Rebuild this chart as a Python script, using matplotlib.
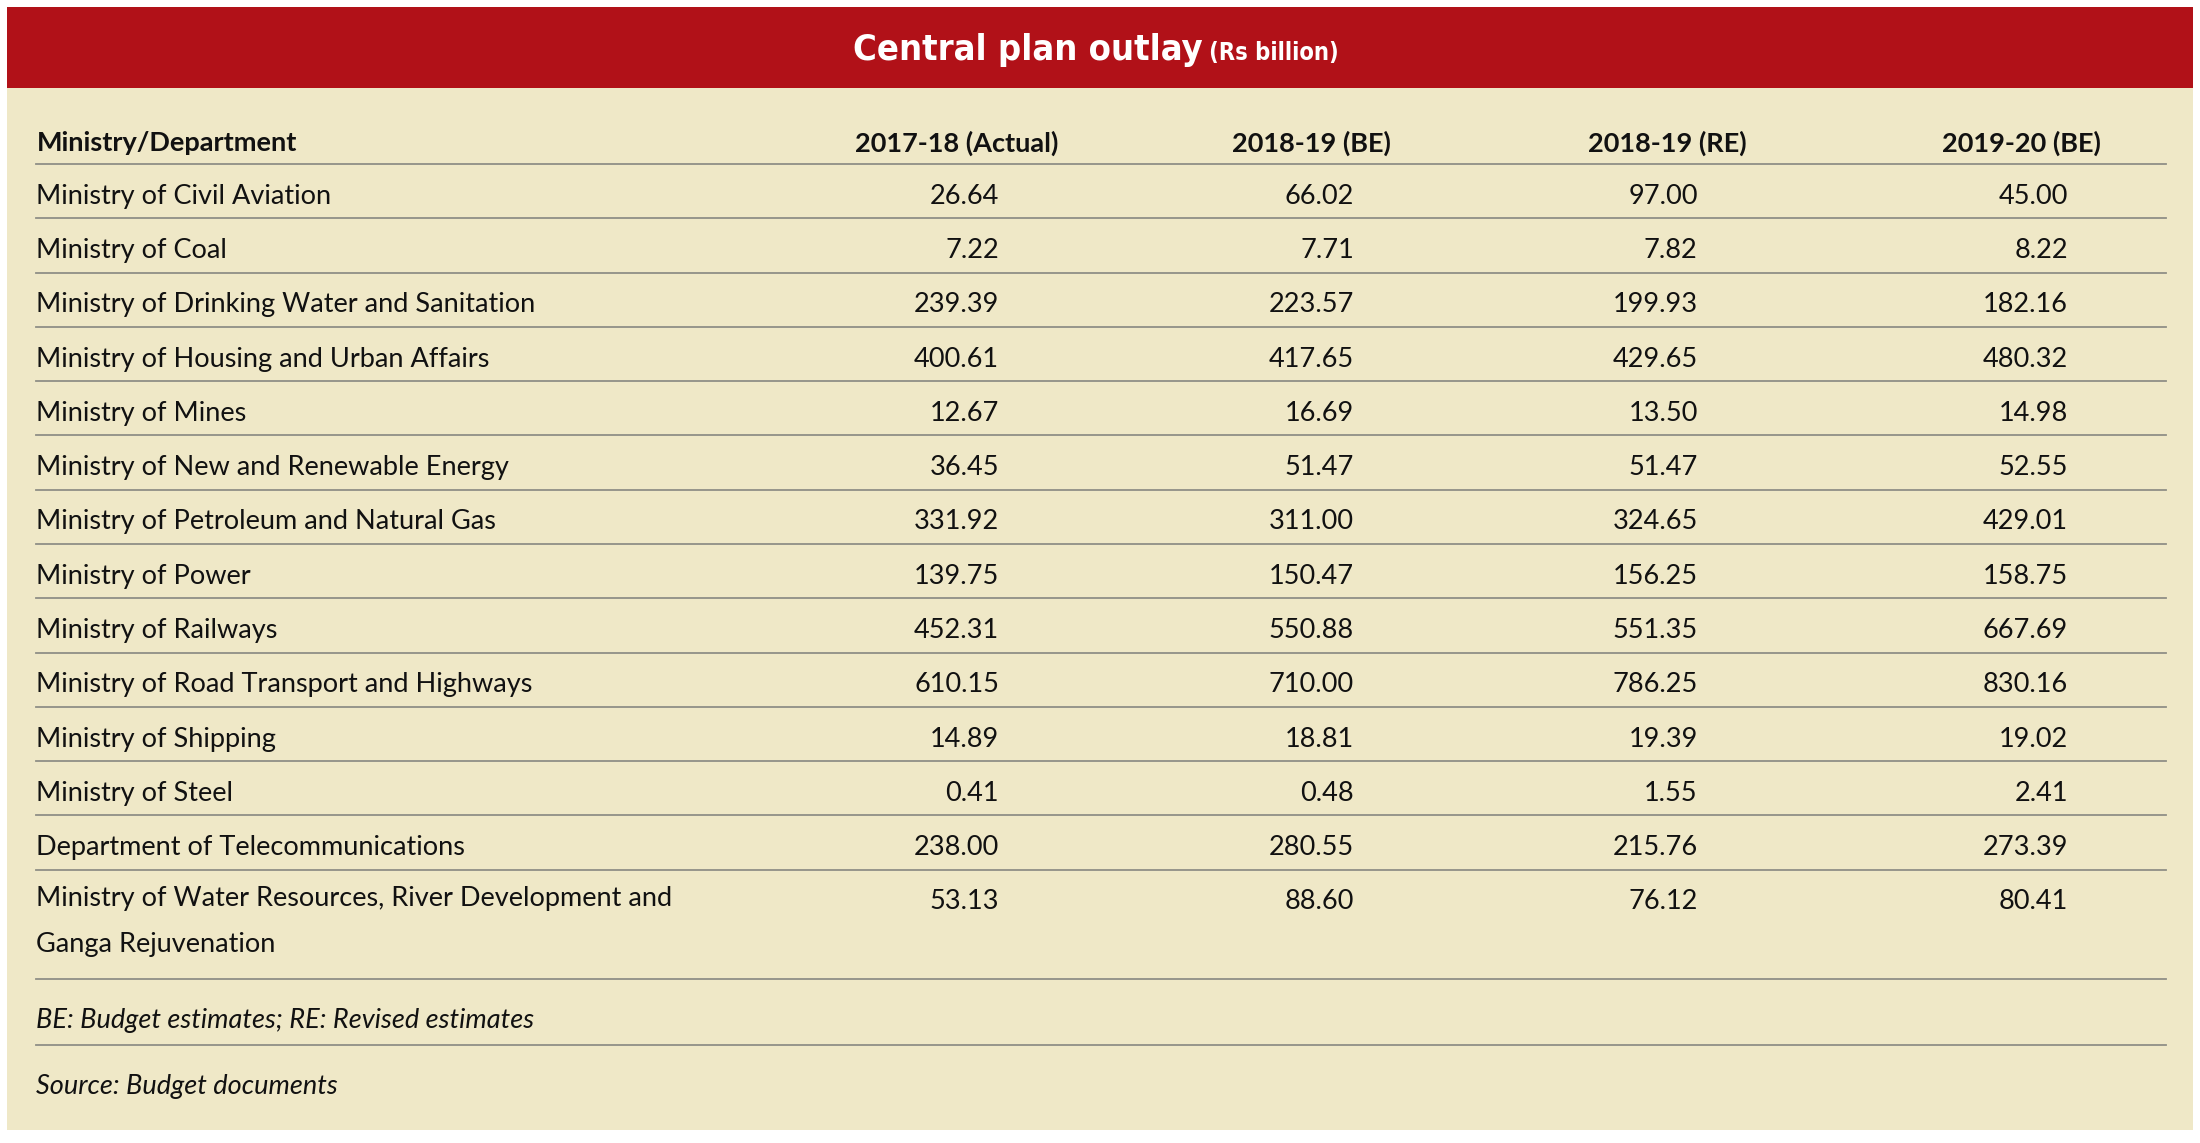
import matplotlib
matplotlib.use("Agg")
import matplotlib.pyplot as plt
from matplotlib.patches import Rectangle

title = "Central plan outlay"
subtitle = "(Rs billion)"
headers = ["Ministry/Department", "2017-18 (Actual)", "2018-19 (BE)", "2018-19 (RE)", "2019-20 (BE)"]
ministries = ["Ministry of Civil Aviation", "Ministry of Coal", "Ministry of Drinking Water and Sanitation",
              "Ministry of Housing and Urban Affairs", "Ministry of Mines", "Ministry of New and Renewable Energy",
              "Ministry of Petroleum and Natural Gas", "Ministry of Power", "Ministry of Railways",
              "Ministry of Road Transport and Highways", "Ministry of Shipping", "Ministry of Steel",
              "Department of Telecommunications",
              "Ministry of Water Resources, River Development and\nGanga Rejuvenation"]
actual_1718 = ["26.64", "7.22", "239.39", "400.61", "12.67", "36.45", "331.92", "139.75", "452.31", "610.15", "14.89", "0.41", "238.00", "53.13"]
be_1819 = ["66.02", "7.71", "223.57", "417.65", "16.69", "51.47", "311.00", "150.47", "550.88", "710.00", "18.81", "0.48", "280.55", "88.60"]
re_1819 = ["97.00", "7.82", "199.93", "429.65", "13.50", "51.47", "324.65", "156.25", "551.35", "786.25", "19.39", "1.55", "215.76", "76.12"]
be_1920 = ["45.00", "8.22", "182.16", "480.32", "14.98", "52.55", "429.01", "158.75", "667.69", "830.16", "19.02", "2.41", "273.39", "80.41"]
notes = ["BE: Budget estimates; RE: Revised estimates", "Source: Budget documents"]

W, H = 1568, 815
fig = plt.figure(figsize=(22, 11.43), dpi=100)
ax = fig.add_axes([0, 0, 1, 1])
ax.set_xlim(0, W); ax.set_ylim(H, 0); ax.axis("off")
FONT = ["Lato", "DejaVu Sans"]
RED = "#B11118"; BEIGE = "#EFE8C7"; LINE = "#8f8f86"

ax.add_patch(Rectangle((5, 63), 1558, 743, color=BEIGE, lw=0))
ax.add_patch(Rectangle((5, 5), 1558, 58, color=RED, lw=0))
ax.text(857, 36, title, ha="right", va="center", color="white", fontsize=26, fontweight="bold",
        fontstretch="condensed", family=["DejaVu Sans"])
ax.text(862, 38, subtitle, ha="left", va="center", color="white", fontsize=17, fontweight="bold",
        fontstretch="condensed", family=["DejaVu Sans"])

fs = 19.5
centers = [None, 682, 935, 1188, 1441]
rights = [712, 965, 1210, 1474]
ax.text(26, 102, headers[0], ha="left", va="center", fontsize=fs, fontweight="bold", family=FONT, color="#111")
for c, h in zip(centers[1:], headers[1:]):
    ax.text(c, 102, h, ha="center", va="center", fontsize=fs, fontweight="bold", family=FONT, color="#111")

step = 38.7
lines = [117 + i * step for i in range(14)] + [698, 745]
for y in lines:
    ax.plot([26, 1544], [y, y], color=LINE, lw=1.3)

cols = [actual_1718, be_1819, re_1819, be_1920]
for i, m in enumerate(ministries):
    y = 140 + i * step
    ax.text(26, y - 11 if "\n" in m else y, m, ha="left", va="top" if "\n" in m else "center",
            fontsize=fs, family=FONT, color="#111", linespacing=2.05)
    for x, col in zip(rights, cols):
        ax.text(x, y, col[i], ha="right", va="center", fontsize=fs, family=FONT, color="#111")

for y, n in zip([728, 775], notes):
    ax.text(26, y, n, ha="left", va="center", fontsize=fs, style="italic", family=FONT, color="#111")

fig.savefig("out.png", dpi=100, facecolor="white")
